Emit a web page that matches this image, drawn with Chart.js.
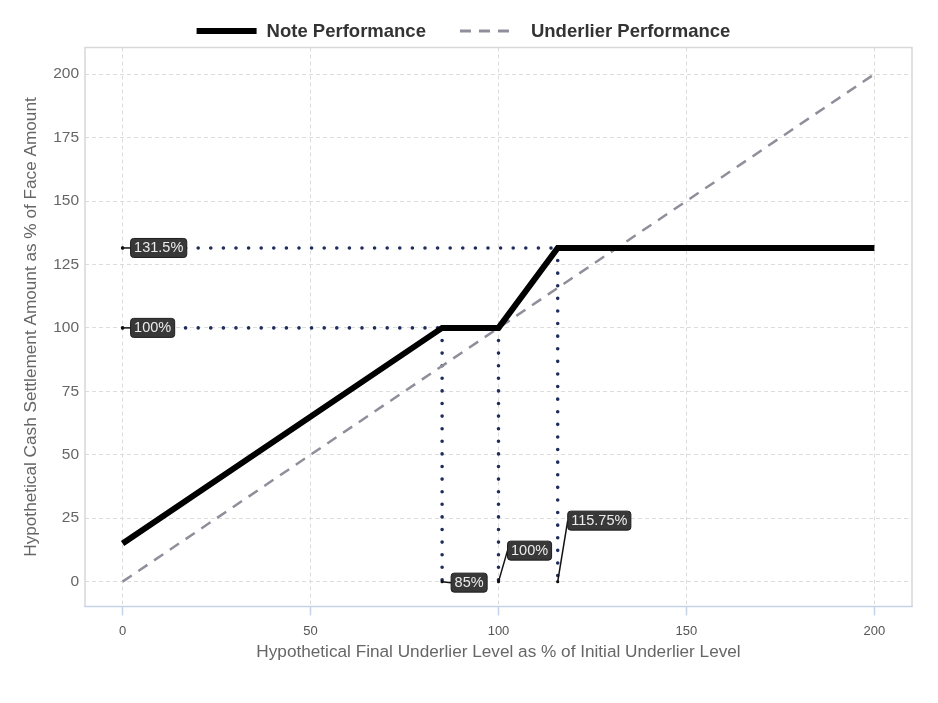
<!DOCTYPE html>
<html>
<head>
<meta charset="utf-8">
<script src="https://cdn.jsdelivr.net/npm/chart.js@4/dist/chart.umd.min.js"></script>
<style>
html,body{margin:0;padding:0;background:#fff;}
#wrap{width:938px;height:703px;}
</style>
</head>
<body>
<div id="wrap"><canvas id="c" width="938" height="703"></canvas></div>
<script>
// ---- data ----
const noteX = [0, 85, 100, 115.75, 200];
const noteY = [15, 100, 100, 131.5, 131.5];
const underX = [0, 200];
const underY = [0, 200];
const xTicks = [0, 50, 100, 150, 200];
const yTicks = [0, 25, 50, 75, 100, 125, 150, 175, 200];
// reference guide segments [x1, y1, x2, y2]
const guideH1 = [0, 131.5, 115.75, 131.5];
const guideH2 = [0, 100, 85, 100];
const guideV1 = [85, 100, 85, 0];
const guideV2 = [100, 100, 100, 0];
const guideV3 = [115.75, 131.5, 115.75, 0];
// callout labels: anchor x, anchor y, text
const calloutX = [0, 0, 85, 100, 115.75];
const calloutY = [131.5, 100, 0, 0, 0];
const calloutText = ['131.5%', '100%', '85%', '100%', '115.75%'];
const seriesNames = ['Note Performance', 'Underlier Performance'];

// ---- style / layout (pixels) ----
const calloutOffsets = [[8, 0], [8, 0], [9, 1], [9, -31], [10, -61]];
const legendStyle = {centerX: 463.5, y: 31, lineLen: [60, 56], textGap: [10, 15], itemGap: 34,
  font: 'bold 18.5px "Liberation Sans", Arial, sans-serif', color: '#333'};

function pts(xs, ys) { return xs.map((x, i) => ({x: x, y: ys[i]})); }
function seg(s) { return [{x: s[0], y: s[1]}, {x: s[2], y: s[3]}]; }

const dotted = {
  borderColor: '#1f2d5c', borderWidth: 3.6, borderDash: [0, 12.6],
  borderCapStyle: 'round', pointRadius: 0, fill: false
};

const boxPlugin = {
  id: 'frameAndCallouts',
  afterDatasetsDraw(chart) {
    const ctx = chart.ctx, a = chart.chartArea;
    const xs = chart.scales.x, ys = chart.scales.y;
    ctx.save();
    ctx.lineWidth = 1.5;
    ctx.strokeStyle = '#d8d8d8';
    ctx.beginPath();
    ctx.moveTo(a.left, a.bottom);
    ctx.lineTo(a.left, a.top);
    ctx.lineTo(a.right, a.top);
    ctx.lineTo(a.right, a.bottom);
    ctx.stroke();
    ctx.strokeStyle = '#c6d2e8';
    ctx.beginPath();
    ctx.moveTo(a.left - 0.75, a.bottom);
    ctx.lineTo(a.right + 0.75, a.bottom);
    ctx.stroke();
    ctx.font = '14.5px "Liberation Sans", Arial, sans-serif';
    ctx.textBaseline = 'middle';
    for (let i = 0; i < calloutText.length; i++) {
      const px = xs.getPixelForValue(calloutX[i]);
      const py = ys.getPixelForValue(calloutY[i]);
      const bx = px + calloutOffsets[i][0];
      const by = py + calloutOffsets[i][1];
      const tw = ctx.measureText(calloutText[i]).width;
      const w = tw + 7, h = 19;
      ctx.strokeStyle = '#111';
      ctx.lineWidth = 1.5;
      ctx.beginPath();
      ctx.moveTo(px, py);
      ctx.lineTo(bx, by);
      ctx.stroke();
      ctx.fillStyle = '#111';
      ctx.beginPath(); ctx.arc(px, py, 1.6, 0, Math.PI * 2); ctx.fill();
      ctx.beginPath();
      ctx.roundRect(bx, by - h / 2, w, h, 3);
      ctx.fillStyle = '#383838';
      ctx.fill();
      ctx.strokeStyle = '#1e1e1e';
      ctx.lineWidth = 1;
      ctx.stroke();
      ctx.fillStyle = '#ececec';
      ctx.textAlign = 'left';
      ctx.fillText(calloutText[i], bx + 3.5, by + 0.5);
    }
    ctx.restore();
  },
  afterDraw(chart) {
    // legend drawn from the first two datasets' own styles
    const ctx = chart.ctx, L = legendStyle;
    const ds = chart.data.datasets.slice(0, 2);
    ctx.save();
    ctx.font = L.font;
    ctx.textBaseline = 'middle';
    ctx.textAlign = 'left';
    const widths = ds.map((d, i) => L.lineLen[i] + L.textGap[i] + ctx.measureText(d.label).width);
    const total = widths.reduce((s, w) => s + w, 0) + L.itemGap * (ds.length - 1);
    let x = L.centerX - total / 2;
    ds.forEach((d, i) => {
      ctx.strokeStyle = d.borderColor;
      ctx.lineWidth = i === 0 ? 6 : 3;
      ctx.setLineDash(d.borderDash || []);
      ctx.lineCap = 'butt';
      ctx.beginPath();
      ctx.moveTo(x, L.y);
      ctx.lineTo(x + L.lineLen[i], L.y);
      ctx.stroke();
      ctx.setLineDash([]);
      ctx.fillStyle = L.color;
      ctx.fillText(d.label, x + L.lineLen[i] + L.textGap[i], L.y + 1);
      x += widths[i] + L.itemGap;
    });
    ctx.restore();
  }
};

new Chart(document.getElementById('c'), {
  type: 'line',
  data: {
    datasets: [
      {label: seriesNames[0], data: pts(noteX, noteY), borderColor: '#000', backgroundColor: '#000',
       borderWidth: 6, pointRadius: 0, fill: false, borderJoinStyle: 'miter'},
      {label: seriesNames[1], data: pts(underX, underY), borderColor: '#8f8f9b', backgroundColor: '#8f8f9b',
       borderWidth: 2.5, borderDash: [11, 8], pointRadius: 0, fill: false},
      Object.assign({label: 'g1', data: seg(guideH1)}, dotted),
      Object.assign({label: 'g2', data: seg(guideH2)}, dotted),
      Object.assign({label: 'g3', data: seg(guideV1)}, dotted),
      Object.assign({label: 'g4', data: seg(guideV2)}, dotted),
      Object.assign({label: 'g5', data: seg(guideV3)}, dotted)
    ]
  },
  options: {
    responsive: false,
    animation: false,
    events: [],
    layout: {padding: {left: 0, right: 26, top: 47.5, bottom: 40}},
    plugins: {
      tooltip: {enabled: false},
      legend: {display: false}
    },
    scales: {
      x: {
        type: 'linear', min: -10, max: 210,
        afterBuildTicks: (s) => { s.ticks = xTicks.map(v => ({value: v})); },
        afterFit: (s) => { s.height = 56.5; },
        grid: {color: '#dcdcdc', tickColor: '#c6d2e8', tickBorderDash: [], tickLength: 9, tickWidth: 1.5},
        border: {display: false, dash: [4, 3]},
        ticks: {color: '#555', padding: 8, maxRotation: 0,
                font: {family: '"Liberation Sans Narrow", "Liberation Sans", Arial, sans-serif', size: 13}},
        title: {display: true, text: 'Hypothetical Final Underlier Level as % of Initial Underlier Level',
                color: '#666', padding: {top: 0, bottom: 0},
                font: {family: '"Liberation Sans Narrow", "Liberation Sans", Arial, sans-serif', size: 17.2}}
      },
      y: {
        type: 'linear', min: -9.8, max: 210.5,
        afterBuildTicks: (s) => { s.ticks = yTicks.map(v => ({value: v})); },
        afterFit: (s) => { s.width = 85; },
        grid: {color: '#dcdcdc', drawTicks: false},
        border: {display: false, dash: [4, 3]},
        ticks: {color: '#666', padding: 6,
                font: {family: '"Liberation Sans", Arial, sans-serif', size: 15.5}},
        title: {display: true, text: 'Hypothetical Cash Settlement Amount as % of Face Amount',
                color: '#666', padding: {top: 21, bottom: 0},
                font: {family: '"Liberation Sans", Arial, sans-serif', size: 17.2}}
      }
    }
  },
  plugins: [boxPlugin]
});
</script>
</body>
</html>
